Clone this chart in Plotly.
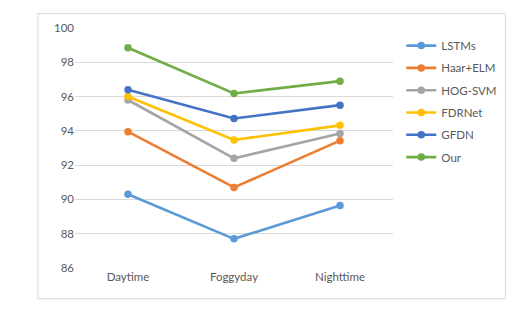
import plotly.graph_objects as go

categories = ["Daytime", "Foggyday", "Nighttime"]
series_names = ["LSTMs", "Haar+ELM", "HOG-SVM", "FDRNet", "GFDN", "Our"]
lstms = [90.3, 87.7, 89.65]
haar_elm = [93.95, 90.7, 93.43]
hog_svm = [95.8, 92.4, 93.85]
fdrnet = [96.0, 93.47, 94.32]
gfdn = [96.4, 94.72, 95.5]
our = [98.85, 96.18, 96.9]
y_ticks = [86, 88, 90, 92, 94, 96, 98, 100]

values = [lstms, haar_elm, hog_svm, fdrnet, gfdn, our]
colors = ["#5B9BD5", "#ED7D31", "#A5A5A5", "#FFC000", "#4472C4", "#70AD47"]

font_family = "Lato, Open Sans, Liberation Sans, sans-serif"
fig = go.Figure()
for name, vals, c in zip(series_names, values, colors):
    fig.add_trace(go.Scatter(
        x=categories, y=vals, name=name, mode="lines+markers",
        line=dict(color=c, width=2.6), marker=dict(color=c, size=7.5),
        legendgroup=name,
    ))

fig.update_layout(
    width=532, height=314,
    margin=dict(l=67, r=147, t=20, b=54),
    paper_bgcolor="white", plot_bgcolor="white",
    font=dict(family=font_family, size=11.5, color="#595959"),
    showlegend=True,
    legend=dict(x=1.026, y=0.987, xanchor="left", yanchor="top",
                font=dict(size=11.5, color="#595959"),
                tracegroupgap=3.3, bgcolor="rgba(0,0,0,0)"),
    xaxis=dict(range=[-0.5, 2.5], showgrid=False, zeroline=False, showline=False,
               ticks="", tickfont=dict(size=11.5, color="#595959")),
    yaxis=dict(range=[86, 100], tickvals=y_ticks, showgrid=True, gridcolor="#D9D9D9",
               gridwidth=1, zeroline=False, showline=False, ticks="",
               tickfont=dict(size=11.5, color="#595959")),
    shapes=[dict(type="rect", xref="paper", yref="paper",
                 x0=-0.1166, x1=1.354, y0=-0.128, y1=1.06,
                 line=dict(color="#D9D9D9", width=1), fillcolor="rgba(0,0,0,0)",
                 layer="below")],
)

fig.write_html("out.html")
